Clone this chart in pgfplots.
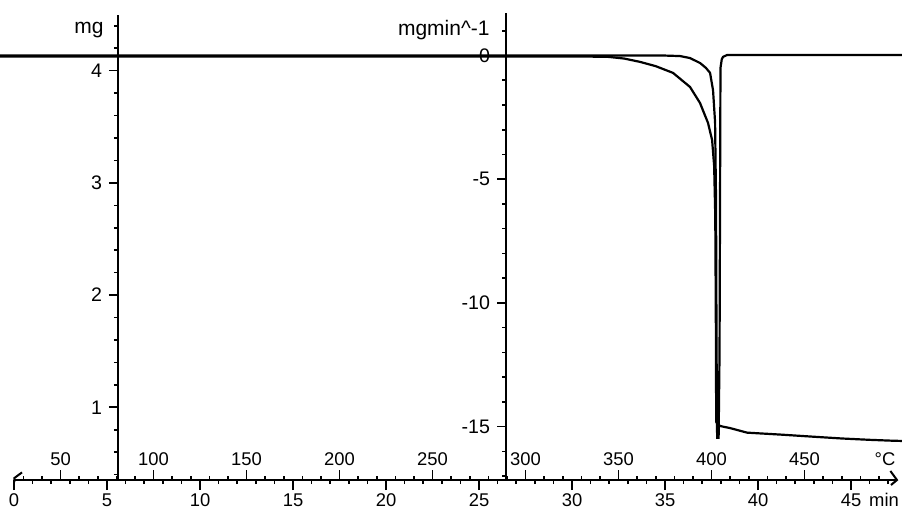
\documentclass[border=0pt]{standalone}
\usepackage{fontspec}
\setmainfont{Liberation Sans}
\usepackage{pgfplots}
\pgfplotsset{compat=1.18}
\usetikzlibrary{arrows.meta}

% Thermogravimetric run: mass (mg) and its rate (mg/min) against time,
% with the furnace temperature scale (10 K/min from 25 C) on the same line.
\pgfplotstableread{
t      mg
-0.75  4.125
10.0   4.125
20.0   4.125
31.00  4.125
31.88  4.124
32.80  4.108
33.66  4.078
34.50  4.040
35.43  3.980
36.34  3.855
36.88  3.712
37.31  3.534
37.53  3.382
37.64  3.150
37.70  2.700
37.73  1.800
37.75  0.870
37.80  0.856
37.96  0.833
38.49  0.815
39.41  0.774
41.18  0.757
42.96  0.738
44.50  0.722
46.00  0.710
47.26  0.702
47.74  0.700
}\tgdata

\pgfplotstableread{
t      dtg
-0.75  0.00
10.0   0.00
20.0   0.00
30.0   0.00
35.00  0.00
35.81  -0.02
36.34  -0.10
36.88  -0.30
37.20  -0.50
37.42  -0.70
37.58  -1.40
37.69  -2.70
37.74  -5.80
37.77  -12.00
37.80  -15.45
37.88  -15.45
37.93  -12.00
37.96  -5.00
37.98  -0.50
38.05  -0.15
38.12  -0.05
38.33  0.02
47.74  0.02
}\dtgdata

\pgfplotsset{
  every axis/.append style={
    scale only axis,
    clip=false,
    /pgf/number format/assume math mode=true,
    tick style={black, line width=0.8pt},
    axis line style={line width=1pt, -},
    tick label style={font=\fontsize{9.2}{11}\selectfont},
  },
}

\begin{document}
\begin{tikzpicture}
\useasboundingbox (0pt,0pt) rectangle (451pt,-254.5pt);

% time axis (min) with the mass curve
\begin{axis}[
  at={(7pt,-240pt)}, anchor=south west,
  width=441.5pt, height=232.5pt,
  xmin=0, xmax=47.47, ymin=0.352, ymax=4.496,
  axis x line*=bottom, axis y line=none,
  xtick={0,5,...,45}, minor xtick={1,2,...,47},
  xtick align=outside,
  major tick length=5pt, minor tick length=2pt,
  xticklabel style={inner sep=0pt, yshift=-1.8pt},
]
\addplot[black, line width=1.1pt] table[x=t, y=mg] {\tgdata};
\end{axis}

% rate of mass change
\begin{axis}[
  at={(7pt,-240pt)}, anchor=south west,
  width=441.5pt, height=232.5pt,
  xmin=0, xmax=47.47, ymin=-17.16, ymax=1.64,
  axis lines=none,
]
\addplot[black, line width=1.1pt] table[x=t, y=dtg] {\dtgdata};
\end{axis}

% temperature scale on the same base line
\begin{axis}[
  at={(7pt,-240pt)}, anchor=north west,
  width=441.5pt, height=20pt,
  xmin=25, xmax=499.7, ymin=0, ymax=1,
  axis x line*=top, axis y line=none,
  x axis line style={draw=none},
  xtick={50,100,...,450}, minor xtick={30,40,...,490},
  xtick align=outside,
  major tick length=5pt, minor tick length=2pt,
  xticklabel style={inner sep=0pt, yshift=2pt},
]
\end{axis}

% mass axis
\begin{axis}[
  at={(59pt,-240pt)}, anchor=south west,
  width=20pt, height=232.5pt,
  xmin=0, xmax=1, ymin=0.352, ymax=4.496,
  axis y line*=left, axis x line=none,
  ytick={1,2,3,4}, minor ytick={0.4,0.6,...,4.41},
  ytick align=outside,
  major tick length=4.5pt, minor tick length=2pt,
  yticklabel style={font=\fontsize{9.8}{11}\selectfont},
  ylabel={mg},
  every axis y label/.style={at={(axis description cs:0,1)}, anchor=north east,
    inner sep=0pt, xshift=-7pt, yshift=-3.5pt, font=\fontsize{10.5}{12}\selectfont},
]
\end{axis}

% rate axis
\begin{axis}[
  at={(253pt,-240pt)}, anchor=south west,
  width=20pt, height=233.5pt,
  xmin=0, xmax=1, ymin=-17.16, ymax=1.72,
  axis y line*=left, axis x line=none,
  ytick={-15,-10,-5,0}, yticklabels={-15,-10,-5,0},
  minor ytick={-17,-16,...,1},
  ytick align=outside,
  major tick length=4.5pt, minor tick length=2pt,
  yticklabel style={font=\fontsize{9.8}{11}\selectfont},
  ylabel={mgmin\textasciicircum-1},
  every axis y label/.style={at={(axis description cs:0,1)}, anchor=north east,
    inner sep=0pt, xshift=-8pt, yshift=-3.5pt, font=\fontsize{10.5}{12}\selectfont},
]
\end{axis}

% ends of the base line and unit labels
\draw[line width=1pt] (445.2pt,-235.5pt) -- (448.5pt,-240pt) -- (445.5pt,-242.5pt);
\draw[line width=1pt] (11pt,-236.2pt) -- (7.2pt,-239pt) -- (7.2pt,-241pt);
\node[font=\fontsize{9.2}{11}\selectfont, inner sep=0pt] at (442.5pt,-229.5pt) {°C};
\node[font=\fontsize{9.2}{11}\selectfont, inner sep=0pt, anchor=base] at (442pt,-253.3pt) {min};
\end{tikzpicture}
\end{document}
